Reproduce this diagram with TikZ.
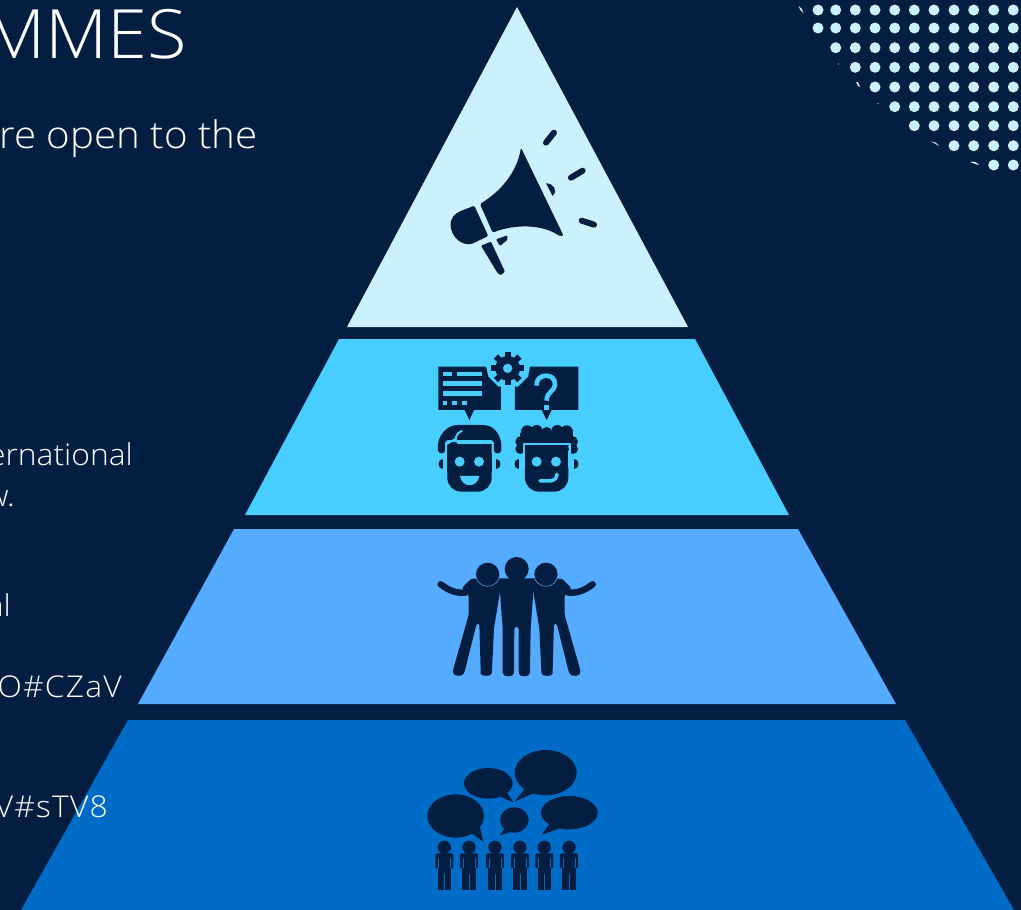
\documentclass[tikz,border=0pt]{standalone}
\usepackage{fontspec}
\setmainfont{Open Sans Light}[FakeStretch=1.06]
\definecolor{bgc}{HTML}{031E41}
\definecolor{pa}{HTML}{CBF1FF}
\definecolor{pb}{HTML}{48CDFF}
\definecolor{pc}{HTML}{55ABFF}
\definecolor{pd}{HTML}{006CC7}
\tikzset{
 lbl/.style={text=white,anchor=base east,inner sep=0pt,font=\fontsize{#1}{#1}\selectfont},
 dotc/.style={fill=pa,draw=none},
 ink/.style={fill=bgc,draw=none},
 inkline/.style={draw=bgc,line cap=round,line join=round},
 zoomed/.style={x=0.3333pt,y=-0.3333pt}
}
\begin{document}
\begin{tikzpicture}[x=1pt,y=-1pt]
\fill[bgc] (0,0) rectangle (1021,910);
\useasboundingbox (0,0) rectangle (1021,910);
\clip (0,0) rectangle (1021,910);
% dots
\foreach \y/\xs in {10/{818,835.7,855.3,875,894.7,914.3,934,954,973.7,993.7,1013.3},
 28/{818,835.7,855.3,875,894.7,914.3,934,954,973.7,993.7,1013.3},
 47.7/{835.7,855.3,875,894.7,914.3,934,954,973.7,993.7,1013.3},
 67.3/{855.3,875,894.7,914.3,934,954,973.7,993.7,1013.3},
 87/{875,894.7,914.3,934,954,973.7,993.7,1013.3},
 106.7/{894.7,914.3,934,954,973.7,993.7,1013.3},
 125.7/{914.3,934,954,973.7,993.7,1013.3},
 145.7/{954,973.7,993.7,1013.3},
 165/{993.7,1013.3}}{
 \foreach \x in \xs {\fill[dotc] (\x,\y) circle[radius=5.5];}
}
\fill[dotc] (798.5,6) .. controls (801,7) and (803,10) .. (803.5,13) .. controls (801,11) and (799,9) .. (798.5,6) -- cycle;
\fill[dotc] (856,82) -- (858,82) -- (860,87) -- (858,86) -- cycle;
\fill[dotc] (931,141.5) .. controls (934,141) and (937,143) .. (939,146) .. controls (936,144) and (934,143) .. (931,141.5) -- cycle;
\fill[dotc] (970,162) .. controls (973,161) and (977,162) .. (979,165) .. controls (976,164) and (973,163.5) .. (970,162) -- cycle;
\fill[dotc] (838.5,64) circle[radius=0.6];
\fill[dotc] (878,103.5) circle[radius=0.6];
% pyramid
\fill[pa] (517,7) -- (688,327) -- (347,327) -- cycle;
\fill[pb] (339,339) -- (695,339) -- (789,515) -- (245,515) -- cycle;
\fill[pc] (234,529) -- (798,529) -- (896,704) -- (138,704) -- cycle;
\fill[pd] (128,720) -- (905,720) -- (1014,910) -- (21,910) -- cycle;
% megaphone
\begin{scope}[shift={(420,110)},zoomed]
\fill[ink,rounded corners=1.5pt] (303,113) .. controls (290,190) and (240,245) .. (180,282) -- (218,368) .. controls (290,340) and (370,345) .. (418,378) -- (431,378) -- cycle;
\fill[ink,rounded corners=1.5pt] (163,287) -- (205,378) -- (155,402) .. controls (125,405) and (100,385) .. (92,352) .. controls (90,325) and (105,310) .. (125,302) -- cycle;
\fill[ink,rounded corners=1pt] (228,388) -- (262,376) -- (262,390) -- (240,408) -- cycle;
\fill[ink,rounded corners=1pt] (183,407) -- (213,395) -- (255,485) -- (242,496) -- (232,488) -- cycle;
\fill[ink] (378,220) .. controls (400,220) and (415,240) .. (398,258) -- cycle;
\draw[inkline,line width=6pt] (378,98) -- (402,68);
\draw[inkline,line width=6pt] (453,203) -- (488,182);
\draw[inkline,line width=6pt] (485,332) -- (522,344);
\end{scope}
% two people and bubbles
\begin{scope}[shift={(420,345)},zoomed]
\fill[ink] (55,65) -- (198,65) -- (205,95) -- (235,125) -- (243,125) -- (243,195) -- (162,195) -- (148,225) -- (134,195) -- (55,195) -- cycle;
\fill[pb] (68,80) rectangle (97,93);
\fill[pb] (110,80) rectangle (185,93);
\fill[pb] (68,108) rectangle (185,122);
\fill[pb] (68,138) rectangle (185,152);
\fill[pb] (68,167) rectangle (82,181);
\fill[pb] (97,167) rectangle (111,181);
\fill[pb] (126,167) rectangle (140,181);
\fill[ink] (330,65) -- (475,65) -- (475,195) -- (395,195) -- (380,225) -- (365,195) -- (285,195) -- (285,125) -- (295,125) -- (325,95) -- cycle;
\draw[pb,line width=4.6pt] (350,122) .. controls (345,85) and (408,80) .. (405,120) .. controls (403,140) and (380,140) .. (380,167);
\fill[pb] (372,180) rectangle (388,195);
% gear
\fill[pb] (263,70) circle[radius=55];
\fill[ink] (263,70) circle[radius=37];
\foreach \a in {0,45,...,315}{\fill[ink,rotate around={\a:(263,70)}] (254,20) rectangle (272,50);}
\fill[pb] (263,70) circle[radius=14];
% left head
\fill[ink,rounded corners=3pt] (55,325) .. controls (48,270) and (85,240) .. (120,240) -- (190,240) .. controls (228,245) and (248,280) .. (243,325) -- (222,325) -- (222,285) -- (75,285) -- (75,325) -- cycle;
\fill[ink] (82,290) rectangle (215,380);
\fill[ink,rounded corners=14pt] (82,330) rectangle (215,440);
\draw[pb,line width=2pt,line cap=round,line join=round] (125,258) .. controls (105,268) and (102,285) .. (115,294) -- (218,294) -- (218,325);
\draw[pb,line width=2pt,line cap=round,line join=round] (105,283) -- (78,298) -- (78,325);
\fill[ink] (68,342) -- (68,372) .. controls (50,372) and (50,342) .. (68,342) -- cycle;
\fill[ink] (228,342) -- (228,372) .. controls (246,372) and (246,342) .. (228,342) -- cycle;
\fill[pb] (119,350) circle[radius=15];
\fill[pb] (177,350) circle[radius=15];
\fill[pb] (120,393) -- (178,393) .. controls (172,430) and (126,430) .. (120,393) -- cycle;
% right head
\foreach \p/\q/\r in {303/290/17,322/260/19,350/258/18,380/262/16,412/258/18,440/260/19,457/290/17,301/312/15,459/312/15}{\fill[ink] (\p,\q) circle[radius=\r];}
\fill[ink] (300,265) rectangle (460,300);
\fill[ink] (315,290) rectangle (445,380);
\fill[ink,rounded corners=14pt] (315,330) rectangle (445,440);
\draw[pb,line width=2pt,line cap=round,line join=round] (311,325) -- (311,296) -- (449,296) -- (449,325);
\fill[ink] (298,342) -- (298,372) .. controls (280,372) and (280,342) .. (298,342) -- cycle;
\fill[ink] (462,342) -- (462,372) .. controls (480,372) and (480,342) .. (462,342) -- cycle;
\fill[pb] (350,350) circle[radius=15];
\fill[pb] (408,350) circle[radius=15];
\draw[pb,line width=3.5pt,line cap=round] (360,408) -- (390,408) .. controls (405,406) and (410,398) .. (411,388);
\end{scope}
% three friends
\begin{scope}[shift={(420,545)},zoomed]
\foreach \m/\s in {0/1,580/-1}{
 \begin{scope}[shift={(\m,0)},xscale=\s]
 \draw[inkline,line width=6.5pt] (62,118) .. controls (85,135) and (105,145) .. (135,143);
 \fill[ink,rounded corners=2.5pt] (125,130) -- (155,100) -- (245,110) -- (240,140) -- (222,250) -- (216,378) .. controls (214,395) and (182,395) .. (182,378) -- (178,235) -- (170,235) -- (134,380) .. controls (125,397) and (96,394) .. (100,372) -- (146,210) -- (146,150) -- cycle;
 \end{scope}
}
\fill[ink,rounded corners=2.5pt] (232,100) -- (348,100) -- (340,140) -- (332,250) -- (330,378) .. controls (328,397) and (298,397) .. (296,378) -- (296,245) -- (283,245) -- (282,378) .. controls (280,397) and (250,397) .. (248,378) -- (248,250) -- (240,140) -- cycle;
\fill[ink] (290,72) circle[radius=36];
\fill[ink,draw=pc,line width=0.5pt] (203,88) circle[radius=36];
\fill[ink,draw=pc,line width=0.5pt] (378,88) circle[radius=36];
\end{scope}
% crowd
\begin{scope}[shift={(415,740)},zoomed]
\fill[ink] (122,228) ellipse[x radius=85,y radius=65];
\fill[ink] (170,280) -- (205,305) -- (195,262) -- cycle;
\fill[ink] (220,130) ellipse[x radius=73,y radius=46];
\fill[ink] (255,170) -- (296,187) -- (270,150) -- cycle;
\fill[ink] (392,98) ellipse[x radius=93,y radius=68];
\fill[ink] (330,145) -- (300,184) -- (355,160) -- cycle;
\fill[ink] (463,218) ellipse[x radius=85,y radius=50];
\fill[ink] (405,250) -- (380,284) -- (435,265) -- cycle;
\fill[ink] (298,240) ellipse[x radius=43,y radius=38];
\fill[ink] (268,265) -- (255,286) -- (290,275) -- cycle;
\foreach \x in {88,162,240,315,388,462}{
 \fill[ink] (\x,322) circle[radius=20];
 \begin{scope}[shift={(\x,0)}]
 \fill[ink,rounded corners=2pt] (-27,340) rectangle (27,385);
 \fill[ink] (-20,380) rectangle (20,450);
 \draw[pd,line width=0.5pt] (0,402) -- (0,450);
 \draw[pd,line width=0.4pt] (-18,355) -- (-18,385);
 \draw[pd,line width=0.4pt] (18,355) -- (18,385);
 \end{scope}
}
\end{scope}
% text
\node[lbl=68] (t1) at (187,58.5) {MMES};
\node[lbl=38] (t2) at (258,148) {re open to the};
\node[lbl=30] (t3) at (133,465) {ernational};
\node[lbl=30] (t4) at (15,506) {w.};
\node[lbl=30] (t5) at (11,616) {al};
\node[lbl=30] (t6) at (122,697) {\addfontfeature{LetterSpace=4}O\#CZaV};
\node[lbl=30] (t7) at (108,817) {\addfontfeature{LetterSpace=4}V\#sTV8};
\end{tikzpicture}
\end{document}
